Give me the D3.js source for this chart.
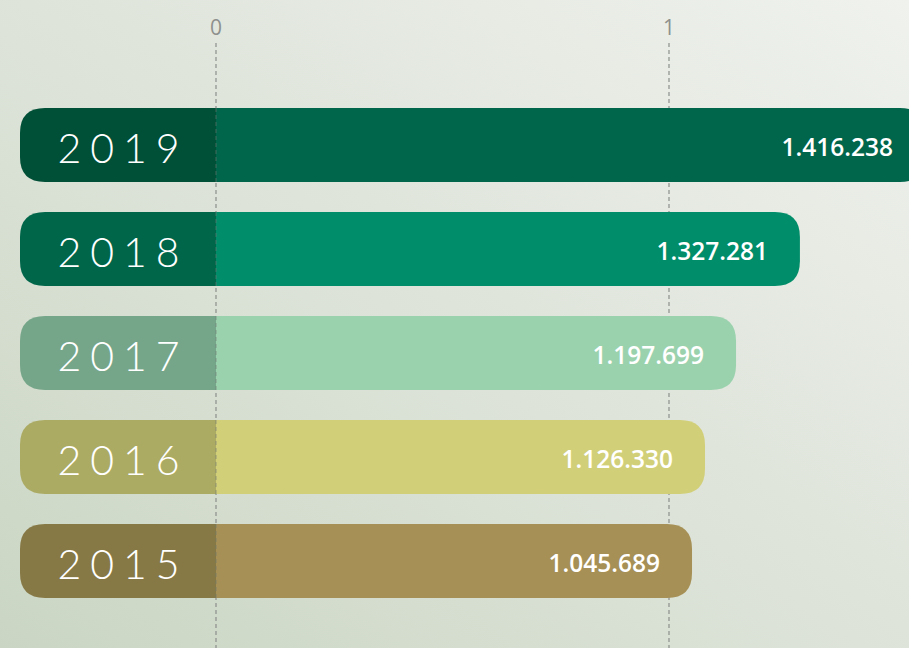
<!DOCTYPE html>
<html>
<head>
<meta charset="utf-8">
<script src="https://cdn.jsdelivr.net/npm/d3@7"></script>
<style>
html,body{margin:0;padding:0;overflow:hidden;}
body{width:909px;height:648px;}
</style>
</head>
<body>
<svg id="chart" width="909" height="648"></svg>
<script>
// Data
const years = ["2019", "2018", "2017", "2016", "2015"];
const valueLabels = ["1.416.238", "1.327.281", "1.197.699", "1.126.330", "1.045.689"];
// bar lengths as drawn (axis units)
const barLengths = [1.565, 1.289, 1.148, 1.0795, 1.0508];
const tickValues = [0, 1];
const tickLabels = ["0", "1"];
const labelColors = ["#004f37", "#00664a", "#76a68a", "#acab64", "#877945"];
const barColors = ["#00664b", "#008d69", "#9bd2ae", "#d2cf79", "#a69055"];

const W = 909, H = 648;
const svg = d3.select("#chart");

// background gradient
const defs = svg.append("defs");
const grad = defs.append("linearGradient").attr("id", "bg")
  .attr("x1", "1").attr("y1", "0").attr("x2", "0").attr("y2", "1");
grad.append("stop").attr("offset", "0%").attr("stop-color", "#eff2ed");
grad.append("stop").attr("offset", "45%").attr("stop-color", "#e0e5dc");
grad.append("stop").attr("offset", "100%").attr("stop-color", "#cad6c3");
svg.append("rect").attr("width", W).attr("height", H).attr("fill", "url(#bg)");

const x = d3.scaleLinear().domain([0, 1]).range([216, 669]);
const y = d3.scaleBand().domain(years).range([93, 613]).paddingInner(30/104).paddingOuter(15/104);
const labelLeft = 20;
const r = 25;

// grid lines
svg.append("g").selectAll("line").data(tickValues).join("line")
  .attr("x1", d => x(d)).attr("x2", d => x(d))
  .attr("y1", 43).attr("y2", H)
  .attr("stroke", "#8c8f8c").attr("stroke-width", 1.2)
  .attr("stroke-dasharray", "4,3");

// tick labels
svg.append("g").selectAll("text").data(tickValues).join("text")
  .attr("x", d => x(d))
  .attr("y", 35)
  .attr("text-anchor", "middle")
  .style("fill", "#8e918d")
  .style("font-size", "21px")
  .style("font-family", "'Open Sans', sans-serif")
  .text((d, i) => tickLabels[i]);

const rows = years.map((yr, i) => ({ year: yr, label: valueLabels[i], len: barLengths[i], lc: labelColors[i], bc: barColors[i] }));

const g = svg.append("g").selectAll("g").data(rows).join("g")
  .attr("transform", d => `translate(0,${y(d.year)})`);

const h = y.bandwidth();

// left label segment (rounded on left)
g.append("path")
  .attr("d", d => {
    const x0 = labelLeft, x1 = x(0);
    return `M${x1},0 L${x0 + r},0 Q${x0},0 ${x0},${r} L${x0},${h - r} Q${x0},${h} ${x0 + r},${h} L${x1},${h} Z`;
  })
  .attr("fill", d => d.lc);

// bar segment (rounded on right)
g.append("path")
  .attr("d", d => {
    const x0 = x(0), x1 = x(d.len);
    return `M${x0},0 L${x1 - r},0 Q${x1},0 ${x1},${r} L${x1},${h - r} Q${x1},${h} ${x1 - r},${h} L${x0},${h} Z`;
  })
  .attr("fill", d => d.bc);

// zero line over bars
g.append("line")
  .attr("x1", x(0)).attr("x2", x(0)).attr("y1", 0).attr("y2", h)
  .attr("stroke", "#6f7a72").attr("stroke-opacity", 0.6).attr("stroke-width", 1)
  .attr("stroke-dasharray", "4,3");

// year labels
g.append("text")
  .attr("x", (labelLeft + x(0)) / 2 + 5)
  .attr("y", h / 2 + 2)
  .attr("text-anchor", "middle")
  .attr("dominant-baseline", "central")
  .style("font-family", "Lato, sans-serif")
  .style("font-weight", 300)
  .style("font-size", "41px")
  .style("letter-spacing", "9px")
  .style("fill", "#ffffff")
  .text(d => d.year);

// value labels
g.append("text")
  .attr("x", d => x(d.len) - 32)
  .attr("y", h / 2 + 1)
  .attr("text-anchor", "end")
  .attr("dominant-baseline", "central")
  .style("font-family", "'Open Sans', sans-serif")
  .style("font-weight", 600)
  .style("font-size", "24.5px")
  .style("fill", "#ffffff")
  .text(d => d.label);
</script>
</body>
</html>
